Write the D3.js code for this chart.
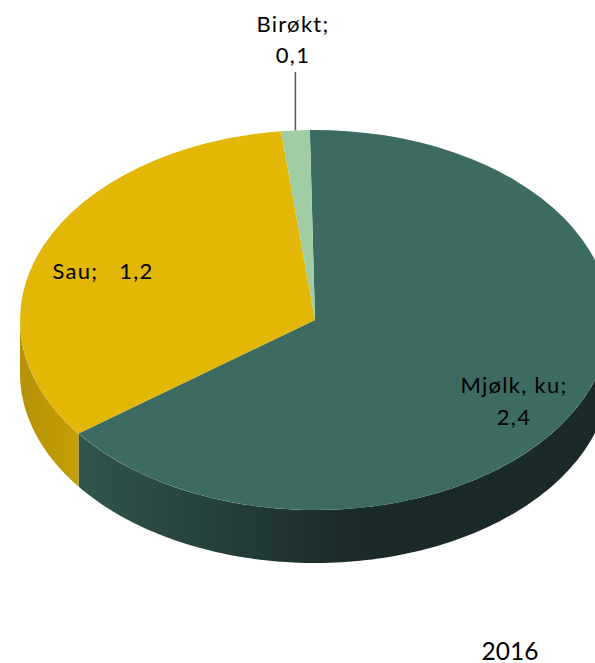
<!DOCTYPE html>
<html lang="no"><head><meta charset="UTF-8">
<title>2016</title>
<script src="https://d3js.org/d3.v7.min.js"></script>
<style>
  html,body { margin:0; padding:0; background:#fff; overflow:hidden; }
  text { font-family:Lato,"Open Sans",sans-serif; fill:#000; }
</style>
</head>
<body>
<div id="chart"></div>
<script>
// verdier lest av figuren (Birøkt er litt under 0,1 etter vinkelen)
const categories = ["Mjølk, ku", "Sau", "Birøkt"];
const values = [2.38, 1.22, 0.057];
const topColors = ["#3d6b62", "#e2b705", "#a0cda4"];
const sideLeft = ["#31554c", "#b59207", "#7fa383"];
const sideRight = ["#1a2a28", "#c49f05", "#7fa383"];
const yearLabel = "2016";

const width = 595, height = 663;
const cx = 315, cy = 320, rx = 295, ry = 190, depth = 53;
const startDeg = -1;

const svg = d3.select("#chart").append("svg")
  .attr("width", width).attr("height", height).style("display", "block");
const defs = svg.append("defs");

const pie = d3.pie().sort(null)
  .startAngle(startDeg * Math.PI / 180)
  .endAngle((startDeg + 360) * Math.PI / 180);
const slices = pie(values);

// sidekanten: bare fronten av kaken (90-270 grader) er synlig
const sx = a => cx + rx * Math.sin(a);
const sy = a => cy - ry * Math.cos(a);
const front = [Math.PI / 2, Math.PI * 1.5];

slices.forEach((d, i) => {
  const a0 = Math.max(d.startAngle, front[0]);
  const a1 = Math.min(d.endAngle, front[1]);
  if (a1 <= a0) return;

  const grad = defs.append("linearGradient")
    .attr("id", "side" + i)
    .attr("gradientUnits", "userSpaceOnUse")
    .attr("x1", sx(a1)).attr("x2", i == 0 ? cx + 40 : sx(a0))
    .attr("y1", 0).attr("y2", 0);
  grad.append("stop").attr("offset", 0).attr("stop-color", sideLeft[i]);
  grad.append("stop").attr("offset", 1).attr("stop-color", sideRight[i]);

  const n = 120;
  const angles = d3.range(n + 1).map(k => a0 + (a1 - a0) * k / n);
  const pts = angles.map(a => [sx(a), sy(a)])
    .concat(angles.slice().reverse().map(a => [sx(a), sy(a) + depth]));
  svg.append("path")
    .attr("d", d3.line()(pts) + "Z")
    .attr("fill", "url(#side" + i + ")");
});

// toppflaten
const arc = d3.arc().innerRadius(0).outerRadius(rx);
svg.append("g")
  .attr("transform", `translate(${cx},${cy}) scale(1,${ry / rx})`)
  .selectAll("path")
  .data(slices)
  .enter().append("path")
  .attr("d", arc)
  .attr("fill", (d, i) => topColors[i]);

// etiketter
const fmt = v => d3.format(".1f")(v).replace(".", ",");

function label(x, lines, size) {
  lines.forEach(l => {
    svg.append("text")
      .attr("x", x).attr("y", l[1])
      .attr("text-anchor", "middle")
      .attr("font-size", size)
      .attr("letter-spacing", 1.3)
      .style("white-space", "pre")
      .text(l[0]);
  });
}

// leader line fra Birøkt
const mid = (slices[2].startAngle + slices[2].endAngle) / 2;
svg.append("line")
  .attr("x1", sx(mid)).attr("x2", sx(mid))
  .attr("y1", 72).attr("y2", sy(mid))
  .attr("stroke", "#555").attr("stroke-width", 1.5);

label(293, [[categories[2] + ";", 32], [fmt(values[2]), 63]], 22);
label(103, [[categories[1] + ";   " + fmt(values[1]), 279]], 22);
label(514, [[categories[0] + ";", 393], [fmt(values[0]), 425]], 22);

svg.append("text")
  .attr("x", 510).attr("y", 660)
  .attr("text-anchor", "middle")
  .attr("font-size", 24.5)
  .text(yearLabel);
</script>
</body></html>
